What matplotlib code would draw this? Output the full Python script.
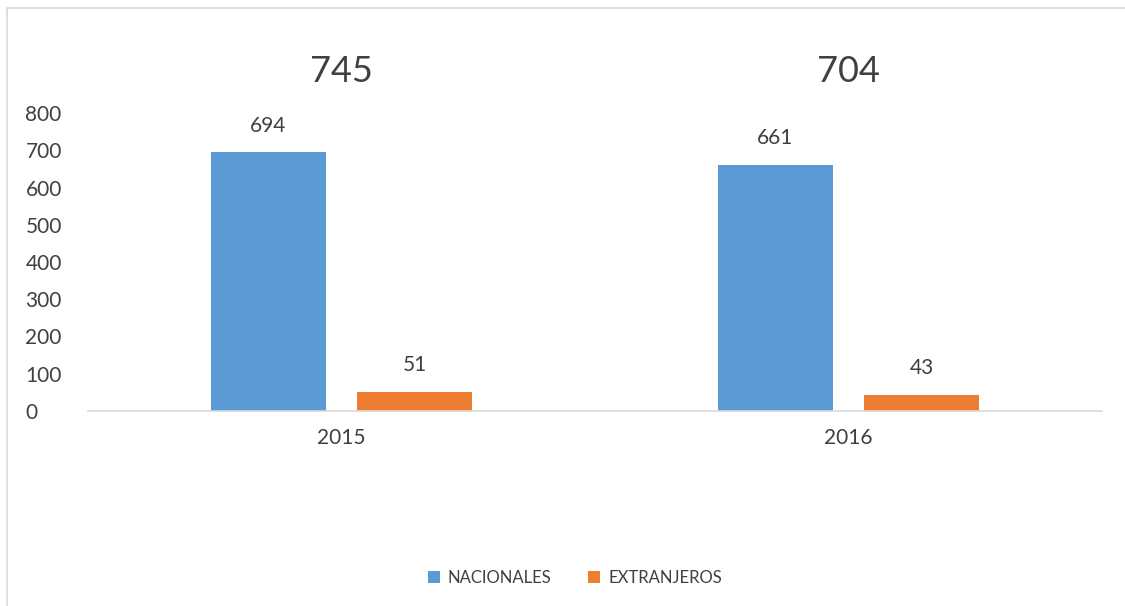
import numpy as np
import matplotlib
matplotlib.use("Agg")
import matplotlib.pyplot as plt
from matplotlib.patches import Rectangle

years = ["2015", "2016"]
nacionales = [694, 661]
extranjeros = [51, 43]
totales = [745, 704]
series_names = ["NACIONALES", "EXTRANJEROS"]

blue = "#5b9bd5"
orange = "#ed7d31"
txt = "#404040"

plt.rcParams["font.family"] = ["Lato", "DejaVu Sans"]

fig = plt.figure(figsize=(11.25, 6.06), dpi=100)
ax = fig.add_axes([88 / 1125, 1 - 411 / 606, (1102 - 88) / 1125, (411 - 113) / 606])

x = np.arange(len(years)) + 0.5
w = 0.225
off = 0.144
b1 = ax.bar(x - off, nacionales, w, color=blue, label=series_names[0])
b2 = ax.bar(x + off, extranjeros, w, color=orange, label=series_names[1])

for bars, vals in [(b1, nacionales), (b2, extranjeros)]:
    for r, v in zip(bars, vals):
        ax.text(r.get_x() + r.get_width() / 2, v + 45, str(v), ha="center", va="bottom",
                fontsize=15, color=txt)

for xi, t in zip(x, totales):
    ax.text(xi, 912, str(t), ha="center", va="center", fontsize=26, color=txt, clip_on=False)

ax.set_xlim(0, 2)
ax.set_ylim(0, 800)
ax.set_yticks(range(0, 801, 100))
ax.set_xticks(x)
ax.set_xticklabels(years)
for s in ["top", "right", "left"]:
    ax.spines[s].set_visible(False)
ax.spines["bottom"].set_color("#d9d9d9")
ax.spines["bottom"].set_linewidth(1.2)
ax.tick_params(axis="both", length=0, labelsize=15, labelcolor=txt)
for lab in ax.get_yticklabels():
    lab.set_horizontalalignment("left")
ax.tick_params(axis="y", pad=45)
ax.tick_params(axis="x", pad=12)

fig.legend(handles=[b1, b2], labels=series_names, loc="center", bbox_to_anchor=(575 / 1125, 1 - 578 / 606),
           ncol=2, frameon=False, fontsize=12, handlelength=0.7, handleheight=0.7,
           columnspacing=2.2, handletextpad=0.5, labelcolor=txt)

fig.patches.append(Rectangle((7 / 1125, -0.1), 1.2, 1 - 8 / 606 + 0.1, transform=fig.transFigure,
                             fill=False, edgecolor="#d9d9d9", linewidth=1.2))

fig.savefig("out.png", dpi=100, facecolor="white")
